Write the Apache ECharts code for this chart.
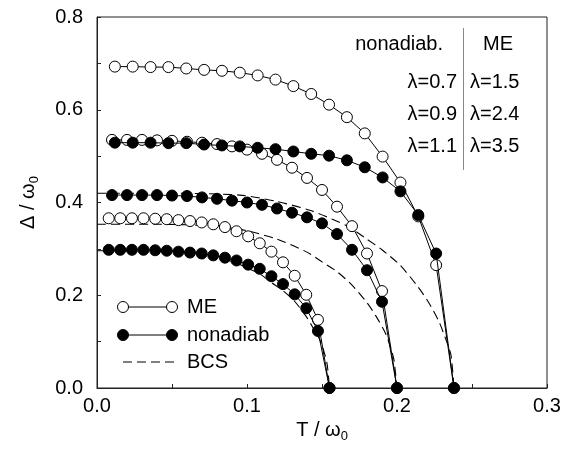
<!DOCTYPE html>
<html>
<head>
<meta charset="utf-8">
<script src="https://cdn.jsdelivr.net/npm/echarts@6/dist/echarts.min.js"></script>
<style>
html, body { margin: 0; padding: 0; background: #fff; }
#chart { width: 577px; height: 451px; }
</style>
</head>
<body>
<div id="chart"></div>
<script>
// 温度网格（每组 Tc/20 一个点）
var T_155 = [0.0078, 0.0155, 0.0233, 0.031, 0.0388, 0.0465, 0.0543, 0.062, 0.0698, 0.0775,
             0.0853, 0.093, 0.1008, 0.1085, 0.1163, 0.124, 0.1318, 0.1395, 0.1473, 0.155];
var T_200 = [0.01, 0.02, 0.03, 0.04, 0.05, 0.06, 0.07, 0.08, 0.09, 0.10,
             0.11, 0.12, 0.13, 0.14, 0.15, 0.16, 0.17, 0.18, 0.19, 0.20];
var T_238 = [0.0119, 0.0238, 0.0357, 0.0476, 0.0595, 0.0714, 0.0833, 0.0952, 0.1071, 0.119,
             0.1309, 0.1428, 0.1547, 0.1666, 0.1785, 0.1904, 0.2023, 0.2142, 0.2261, 0.238];

// ME (空心圆)
var ME_15 = [0.366, 0.366, 0.366, 0.366, 0.365, 0.364, 0.362, 0.360, 0.357, 0.353,
             0.347, 0.338, 0.327, 0.312, 0.294, 0.271, 0.242, 0.201, 0.147, 0];
var ME_24 = [0.535, 0.535, 0.535, 0.534, 0.533, 0.531, 0.529, 0.526, 0.521, 0.514,
             0.505, 0.492, 0.475, 0.453, 0.427, 0.391, 0.349, 0.290, 0.209, 0];
var ME_35 = [0.693, 0.693, 0.692, 0.692, 0.689, 0.686, 0.684, 0.680, 0.674, 0.665,
             0.651, 0.634, 0.611, 0.584, 0.549, 0.499, 0.443, 0.370, 0.265, 0];

// nonadiab (实心圆)
var NA_07 = [0.298, 0.298, 0.298, 0.298, 0.297, 0.296, 0.294, 0.292, 0.290, 0.286,
             0.281, 0.275, 0.266, 0.257, 0.241, 0.224, 0.202, 0.172, 0.123, 0];
var NA_09 = [0.416, 0.416, 0.416, 0.416, 0.415, 0.414, 0.411, 0.408, 0.404, 0.400,
             0.395, 0.387, 0.378, 0.368, 0.355, 0.332, 0.298, 0.254, 0.186, 0];
var NA_11 = [0.529, 0.529, 0.529, 0.528, 0.528, 0.525, 0.523, 0.521, 0.518, 0.515,
             0.510, 0.505, 0.501, 0.491, 0.476, 0.454, 0.424, 0.373, 0.290, 0];

// BCS (虚线)
var BCS1_T = [0, 0.031, 0.062, 0.0775, 0.093, 0.1085, 0.116, 0.124, 0.132, 0.1395, 0.144, 0.149, 0.152, 0.1535, 0.155];
var BCS1_D = [0.296, 0.296, 0.293, 0.284, 0.269, 0.246, 0.228, 0.210, 0.186, 0.154, 0.130, 0.101, 0.071, 0.050, 0];
var BCS2_T = [0, 0.04, 0.08, 0.1, 0.12, 0.14, 0.15, 0.16, 0.17, 0.18, 0.186, 0.192, 0.196, 0.198, 0.2];
var BCS2_D = [0.353, 0.353, 0.349, 0.339, 0.321, 0.293, 0.272, 0.251, 0.222, 0.184, 0.155, 0.120, 0.085, 0.060, 0];
var BCS3_T = [0, 0.048, 0.095, 0.119, 0.143, 0.167, 0.179, 0.19, 0.202, 0.214, 0.221, 0.228, 0.233, 0.236, 0.238];
var BCS3_D = [0.420, 0.420, 0.416, 0.403, 0.382, 0.349, 0.323, 0.298, 0.265, 0.218, 0.185, 0.143, 0.101, 0.071, 0];

var FONT = 'Liberation Sans, Arial, sans-serif';

function pairs(xs, ys) {
    return xs.map(function (x, i) { return [x, ys[i]]; });
}

function bcsSeries(xs, ys) {
    return {
        type: 'line', data: pairs(xs, ys), symbol: 'none',
        smooth: 0.25,
        lineStyle: { color: '#000', width: 1.1, type: [9, 5] },
        z: 1
    };
}

function meSeries(xs, ys) {
    return {
        type: 'line', data: pairs(xs, ys), symbol: 'circle', symbolSize: 11,
        lineStyle: { color: '#000', width: 1 },
        itemStyle: { color: '#fff', borderColor: '#000', borderWidth: 1 },
        z: 2
    };
}

function naSeries(xs, ys) {
    return {
        type: 'line', data: pairs(xs, ys), symbol: 'circle', symbolSize: 11,
        lineStyle: { color: '#000', width: 1 },
        itemStyle: { color: '#000', borderColor: '#000', borderWidth: 1 },
        z: 3
    };
}

var chart = echarts.init(document.getElementById('chart'));

var txt = { fontFamily: FONT, fontSize: 20, fill: '#000' };
function label(x, y, s, align) {
    return { type: 'text', x: x, y: y, style: Object.assign({ text: s, textAlign: align, textVerticalAlign: 'middle' }, txt) };
}

// 图例和右上角表格
var graphics = [
    { type: 'line', shape: { x1: 123, y1: 307, x2: 172, y2: 307 }, style: { stroke: '#000', lineWidth: 1 } },
    { type: 'circle', shape: { cx: 123, cy: 307, r: 5.5 }, style: { fill: '#fff', stroke: '#000', lineWidth: 1 } },
    { type: 'circle', shape: { cx: 172, cy: 307, r: 5.5 }, style: { fill: '#fff', stroke: '#000', lineWidth: 1 } },
    label(187, 307, 'ME', 'left'),
    { type: 'line', shape: { x1: 123, y1: 335, x2: 172, y2: 335 }, style: { stroke: '#000', lineWidth: 1 } },
    { type: 'circle', shape: { cx: 123, cy: 335, r: 5.5 }, style: { fill: '#000', stroke: '#000', lineWidth: 1 } },
    { type: 'circle', shape: { cx: 172, cy: 335, r: 5.5 }, style: { fill: '#000', stroke: '#000', lineWidth: 1 } },
    label(187, 335, 'nonadiab', 'left'),
    { type: 'line', shape: { x1: 123, y1: 362, x2: 175, y2: 362 }, style: { stroke: '#000', lineWidth: 1.1, lineDash: [9, 5] } },
    label(187, 362, 'BCS', 'left'),

    { type: 'line', shape: { x1: 463.5, y1: 28, x2: 463.5, y2: 170 }, style: { stroke: '#888', lineWidth: 1 } },
    label(443, 44, 'nonadiab.', 'right'),
    label(483, 44, 'ME', 'left'),
    label(457, 82, 'λ=0.7', 'right'),
    label(470, 82, 'λ=1.5', 'left'),
    label(457, 114, 'λ=0.9', 'right'),
    label(470, 114, 'λ=2.4', 'left'),
    label(457, 146, 'λ=1.1', 'right'),
    label(470, 146, 'λ=3.5', 'left')
];

var option = {
    animation: false,
    backgroundColor: '#fff',
    grid: {
        left: 97, right: 30, top: 17, bottom: 63,
        show: true, borderColor: '#222', borderWidth: 1
    },
    xAxis: {
        type: 'value', min: 0, max: 0.3, interval: 0.05,
        name: '{a|T / ω}{s|0}', nameLocation: 'middle', nameGap: 30,
        nameTextStyle: {
            rich: {
                a: { fontFamily: FONT, fontSize: 20, color: '#000' },
                s: { fontFamily: FONT, fontSize: 13, color: '#000', padding: [12, 0, 0, 0] }
            }
        },
        axisLine: { show: true, lineStyle: { color: '#222', width: 1 } },
        axisTick: { show: true, inside: true, length: 4, lineStyle: { color: '#222' } },
        axisLabel: {
            fontFamily: FONT, fontSize: 20, color: '#000', margin: 8,
            formatter: function (v, i) { return i % 2 ? '' : v.toFixed(1); }
        },
        splitLine: { show: false }
    },
    yAxis: {
        type: 'value', min: 0, max: 0.8, interval: 0.1,
        name: '{a|Δ / ω}{s|0}', nameLocation: 'middle', nameGap: 56, nameRotate: 90,
        nameTextStyle: {
            rich: {
                a: { fontFamily: FONT, fontSize: 20, color: '#000' },
                s: { fontFamily: FONT, fontSize: 13, color: '#000', padding: [12, 0, 0, 0] }
            }
        },
        axisLine: { show: true, lineStyle: { color: '#222', width: 1 } },
        axisTick: { show: true, inside: true, length: 4, lineStyle: { color: '#222' } },
        axisLabel: {
            fontFamily: FONT, fontSize: 20, color: '#000', margin: 14,
            formatter: function (v, i) { return i % 2 ? '' : v.toFixed(1); }
        },
        splitLine: { show: false }
    },
    graphic: graphics,
    series: [
        bcsSeries(BCS1_T, BCS1_D),
        bcsSeries(BCS2_T, BCS2_D),
        bcsSeries(BCS3_T, BCS3_D),
        meSeries(T_155, ME_15),
        meSeries(T_200, ME_24),
        meSeries(T_238, ME_35),
        naSeries(T_155, NA_07),
        naSeries(T_200, NA_09),
        naSeries(T_238, NA_11)
    ]
};

chart.setOption(option);
</script>
</body>
</html>
